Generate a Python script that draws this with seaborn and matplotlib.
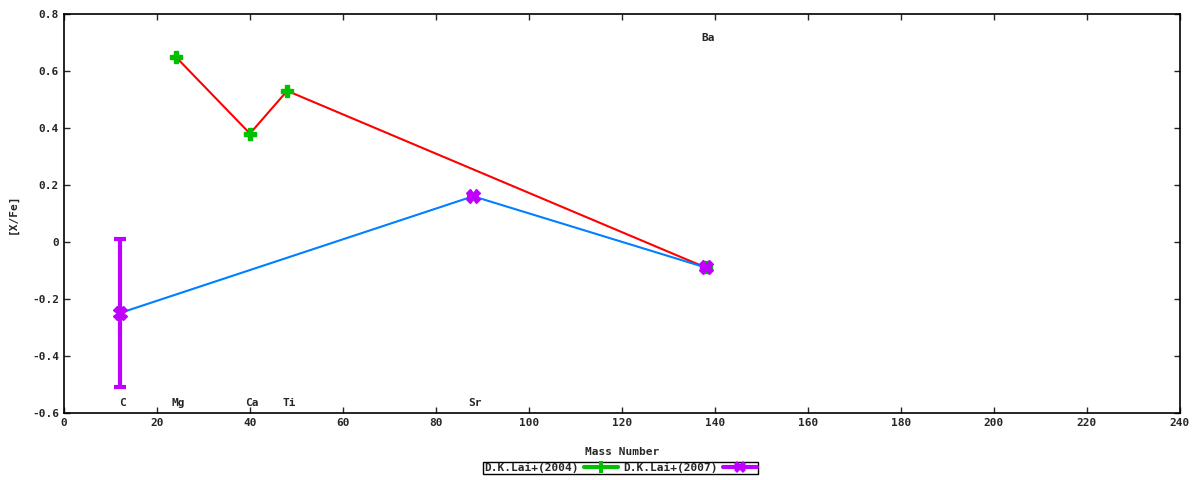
import matplotlib
matplotlib.use("Agg")
import matplotlib.pyplot as plt
import seaborn as sns
import pandas as pd
from matplotlib.lines import Line2D

# D.K.Lai+(2004)
lai04_mass = [24, 40, 48, 138]
lai04_xfe = [0.65, 0.38, 0.53, -0.09]

# D.K.Lai+(2007)
lai07_mass = [12, 88, 138]
lai07_xfe = [-0.25, 0.16, -0.09]
lai07_err = [0.26, 0.0, 0.0]

# element labels
elem_names = ["C", "Mg", "Ca", "Ti", "Sr", "Ba"]
elem_mass = [12, 24, 40, 48, 88, 138]
elem_y = [-0.565, -0.565, -0.565, -0.565, -0.565, 0.715]

sns.set_style("ticks")
plt.rcParams["font.family"] = ["DejaVu Sans Mono"]
plt.rcParams["font.weight"] = "bold"

df04 = pd.DataFrame({"mass": lai04_mass, "xfe": lai04_xfe})
df07 = pd.DataFrame({"mass": lai07_mass, "xfe": lai07_xfe, "err": lai07_err})

fig = plt.figure(figsize=(12, 4.8), dpi=100)
ax = fig.add_axes([0.0533, 0.140, 0.930, 0.831])

green = "#00c000"
purple = "#c000ff"

sns.lineplot(data=df04, x="mass", y="xfe", color="#ff0000", lw=1.5, ax=ax, sort=False, zorder=2)
sns.lineplot(data=df07, x="mass", y="xfe", color="#0080ff", lw=1.5, ax=ax, sort=False, zorder=2)

ax.errorbar(df04["mass"], df04["xfe"], fmt="P", color=green, ms=8, mec=green, zorder=3)
ax.errorbar(df07["mass"], df07["xfe"], yerr=df07["err"], fmt="X", color=purple,
            ms=10, mec=purple, elinewidth=3, capsize=4, capthick=3, zorder=4)

for name, m, y in zip(elem_names, elem_mass, elem_y):
    ax.text(m + 0.5, y, name, ha="center", va="center", fontsize=8, fontweight="bold")

ax.set_xlim(0, 240)
ax.set_ylim(-0.6, 0.8)
ax.set_xticks(range(0, 241, 20))
ax.set_yticks([-0.6, -0.4, -0.2, 0, 0.2, 0.4, 0.6, 0.8])
ax.set_yticklabels(["-0.6", "-0.4", "-0.2", "0", "0.2", "0.4", "0.6", "0.8"])
ax.tick_params(direction="in", top=True, right=True, labelsize=8, length=4, width=1)
for s in ax.spines.values():
    s.set_visible(True)
    s.set_linewidth(1.2)
    s.set_color("black")
ax.set_xlabel("Mass Number", fontsize=8, fontweight="bold", labelpad=14)
ax.set_ylabel("[X/Fe]", fontsize=8, fontweight="bold", labelpad=10)

handles = [
    Line2D([], [], color=green, lw=3, marker="P", ms=8, mew=0),
    Line2D([], [], color=purple, lw=3, marker="X", ms=9, mew=0),
]
fig.legend(handles, ["D.K.Lai+(2004)", "D.K.Lai+(2007)"], loc="center",
           bbox_to_anchor=(0.517, 0.025), ncol=2, markerfirst=False, fancybox=False,
           edgecolor="black", framealpha=1, fontsize=8, borderpad=0.1,
           handlelength=3, handletextpad=0.5, columnspacing=0.5, borderaxespad=0)

fig.savefig("out.png", dpi=100)
